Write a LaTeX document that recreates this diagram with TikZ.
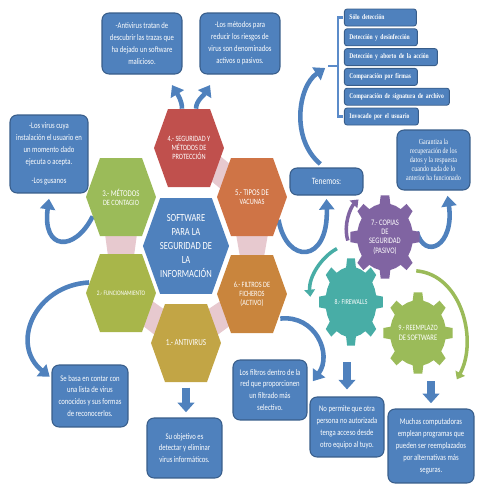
\documentclass[tikz,border=0pt]{standalone}
\usepackage{fontspec}
\usetikzlibrary{arrows.meta,backgrounds}
\newfontfamily\boxfont[FakeStretch=0.78]{Carlito}
\newfontfamily\listfont[FakeStretch=0.78]{Liberation Serif}

\definecolor{boxblue}{HTML}{4F81BD}
\definecolor{boxedge}{HTML}{385D8A}
\definecolor{hexred}{HTML}{C0504D}
\definecolor{hexgreen}{HTML}{9BBB59}
\definecolor{hexorange}{HTML}{CF7446}
\definecolor{hexamber}{HTML}{C9853D}
\definecolor{hexlime}{HTML}{A8B64A}
\definecolor{hexgold}{HTML}{C2A545}
\definecolor{gearpurple}{HTML}{8064A2}
\definecolor{gearteal}{HTML}{48ADA6}
\definecolor{gearlime}{HTML}{9BBB59}
\definecolor{joinpink}{HTML}{E7C9CF}
\definecolor{braceblue}{HTML}{5B8BC9}

\tikzset{
  infobox/.style={draw=boxedge, fill=boxblue, line width=0.6pt, rounded corners=4pt,
    text=white, align=center, inner sep=1pt, font=\boxfont\fontsize{4.9}{6.8}\selectfont},
  listbox/.style={draw=boxedge, fill=boxblue, line width=0.5pt, rounded corners=1.5pt,
    text=white, anchor=west, align=left, minimum height=0.34cm, inner xsep=0.1cm,
    inner ysep=0pt, font=\listfont\bfseries\fontsize{4.1}{5}\selectfont},
  hexlabel/.style={text=white, align=center, inner sep=0pt, minimum width=1.4cm,
    minimum height=1.56cm, font=\boxfont\fontsize{4.6}{5.2}\selectfont},
  gearlabel/.style={text=white, align=center, inner sep=0pt, minimum width=1.4cm,
    minimum height=1.7cm, font=\boxfont\fontsize{4.8}{5.3}\selectfont},
  curvy/.style={draw=boxblue, line width=2.6pt, -{Triangle[length=6pt,width=8.5pt]}},
  blockarrow/.style={draw=boxblue, line width=4.4pt, -{Triangle[length=5.5pt,width=9.5pt]}},
  spin/.style={line width=2pt, -{Triangle[length=4pt,width=6pt]}},
  brace/.style={draw=braceblue, line width=1.2pt},
}

% hexagon cell: name, centre, colour, label
\newcommand{\hexcell}[4]{%
  \fill[#3,shift={(#2)}] (-35,0) -- (-21,-39) -- (21,-39) -- (35,0) -- (21,39) -- (-21,39) -- cycle;
  \node[hexlabel] (#1) at (#2) {#4};}

% gear: name, centre, x radius, y radius, colour, label
\newcommand{\gearcell}[6]{%
  \pgfmathsetmacro\grx{0.8*#3}\pgfmathsetmacro\gry{0.8*#4}
  \fill[#5,shift={(#2)}] (-22.5:{\grx} and {\gry}) \foreach \a in {0,45,...,315}{
      -- ({\a-11}:{\grx} and {\gry}) -- ({\a-7}:#3 and #4) -- ({\a+7}:#3 and #4)
      -- ({\a+11}:{\grx} and {\gry}) -- ({\a+22.5}:{\grx} and {\gry})} -- cycle;
  \node[gearlabel] (#1) at (#2) {#6};}

\begin{document}
\begin{tikzpicture}[x=0.02cm,y=-0.02cm]
  \useasboundingbox (0,0) rectangle (495,495);

  % honeycomb
  \hexcell{h4}{189,148}{hexred}{4.- SEGURIDAD Y\\MÉTODOS DE\\PROTECCIÓN}
  \hexcell{h3}{121,197}{hexgreen}{\fontsize{5}{5.7}\selectfont 3.- MÉTODOS\\DE CONTAGIO}
  \hexcell{h5}{252,197}{hexorange}{\fontsize{5}{5.7}\selectfont 5.- TIPOS DE\\VACUNAS}
  \hexcell{h2}{121,293}{hexlime}{\fontsize{3.9}{4.5}\selectfont 2.- FUNCIONAMIENTO}
  \hexcell{h6}{252,294}{hexamber}{6.- FILTROS DE\\FICHEROS\\(ACTIVO)}
  \hexcell{h1}{186,343}{hexgold}{\fontsize{5.2}{6}\selectfont 1.- ANTIVIRUS}
  \fill[boxblue,shift={(186,246)},scale=1.23] (-35,0) -- (-21,-39) -- (21,-39) -- (35,0) -- (21,39) -- (-21,39) -- cycle;
  \node[hexlabel,minimum width=1.72cm,minimum height=1.92cm,font=\boxfont\fontsize{6.2}{8}\selectfont]
    (h0) at (186,246) {SOFTWARE\\PARA LA\\SEGURIDAD DE\\LA\\INFORMACIÓN};

  % gears
  \gearcell{g8}{351,302}{32}{44}{gearteal}{\fontsize{4.2}{5}\selectfont 8.- FIREWALLS}
  \gearcell{g7}{385,237}{35}{42}{gearpurple}{7.- COPIAS\\DE\\SEGURIDAD\\(PASIVO)}
  \gearcell{g9}{418,333}{35}{41}{gearlime}{\fontsize{4.6}{5.7}\selectfont 9.- REEMPLAZO\\DE SOFTWARE}

  % text boxes
  \node[infobox,minimum width=1.6cm,minimum height=1.22cm] (b1) at (142,43.5)
    {-Antivirus tratan de\\descubrir las trazas que\\ha dejado un software\\malicioso.};
  \node[infobox,minimum width=1.6cm,minimum height=1.22cm] (b2) at (240,43.5)
    {-Los métodos para\\reducir los riesgos de\\virus son denominados\\activos o pasivos.};
  \node[infobox,minimum width=1.56cm,minimum height=1.56cm] (b3) at (49,154)
    {-Los virus cuya\\instalación el usuario en\\un momento dado\\ejecuta o acepta.\\[4pt]-Los gusanos};
  \node[infobox,minimum width=1.52cm,minimum height=1.24cm] (b4) at (90,396)
    {Se basa en contar con\\una lista de virus\\conocidos y sus formas\\de reconocerlos.};
  \node[infobox,minimum width=1.5cm,minimum height=1.2cm] (b5) at (184.5,448)
    {Su objetivo es\\detectar y eliminar\\virus informáticos.};
  \node[infobox,minimum width=1.48cm,minimum height=1.2cm] (b6) at (270,390)
    {Los filtros dentro de la\\red que proporcionen\\un filtrado más\\selectivo.};
  \node[infobox,minimum width=1.48cm,minimum height=1.2cm] (b7) at (347,427)
    {No permite que otra\\persona no autorizada\\tenga acceso desde\\otro equipo al tuyo.};
  \node[infobox,minimum width=1.72cm,minimum height=1.48cm] (b8) at (431,446)
    {Muchas computadoras\\emplean programas que\\pueden ser reemplazados\\por alternativas más\\seguras.};
  \node[infobox,minimum width=1.46cm,minimum height=0.54cm,font=\boxfont\fontsize{5.5}{6}\selectfont]
    (ten) at (326.5,181.5) {Tenemos:};
  \node[infobox,minimum width=1.46cm,minimum height=1.2cm,font=\listfont\fontsize{4.4}{5.1}\selectfont]
    (gar) at (433.5,160) {Garantiza la\\recuperación de los\\datos y la respuesta\\cuando nada de lo\\anterior ha funcionado};

  % list of detection types
  \node[listbox,text width=1.24cm] (l1) at (344,17.5) {Sólo detección};
  \node[listbox,text width=1.26cm] (l2) at (344,37.3) {Detección y desinfección};
  \node[listbox,text width=1.66cm] (l3) at (344,57.1) {Detección y aborto de la acción};
  \node[listbox,text width=1.26cm] (l4) at (344,76.9) {Comparación por firmas};
  \node[listbox,text width=1.9cm]  (l5) at (344,96.7) {Comparación de signatura de archivo};
  \node[listbox,text width=1.28cm] (l6) at (344,116.5) {Invocado por el usuario};
  \draw[brace] ([xshift=-0.5pt]l1.west) -- ++(-5,0) coordinate (bt) -- (bt |- l6.west) -- ([xshift=-0.5pt]l6.west);
  \draw[brace] (bt |- l3.south) -- ++(-10,0) coordinate (brtip);

  % gear turns
  \draw[spin,gearpurple] ([xshift=-1pt,yshift=-2pt]g7.west) .. controls +(-5,-15) and +(-8,8) .. ([xshift=5pt,yshift=-3pt]g7.north west);
  \draw[spin,gearteal] ([xshift=-8pt,yshift=6pt]g8.north) .. controls +(-15,8) and +(-2,-20) .. ([xshift=-3pt,yshift=3pt]g8.west);
  \draw[spin,gearlime] ([xshift=-1pt,yshift=11pt]g9.north) .. controls +(46,4) and +(21,-38) .. ([xshift=2pt,yshift=-2pt]g9.south east);

  \begin{pgfonlayer}{background}
    % joins between cells
    \fill[joinpink] (219,155) -- (210,180) -- (222,190) -- (231,165) -- cycle;
    \fill[joinpink] (105,234) -- (137,234) -- (134,256) -- (108,256) -- cycle;
    \fill[joinpink] (236,234) -- (268,234) -- (264,257) -- (240,257) -- cycle;
    \fill[joinpink] (151,300) -- (142,325) -- (156,336) -- (165,310) -- cycle;
    \fill[joinpink] (222,300) -- (231,325) -- (216,336) -- (207,310) -- cycle;

    % connectors
    \draw[curvy] ([xshift=-4pt]h4.north) .. controls +(0,-8) and +(6,10) .. ([xshift=-6pt,yshift=-6pt]b1.south east);
    \draw[curvy] ([xshift=4pt]h4.north) .. controls +(0,-8) and +(-6,10) .. ([xshift=6pt,yshift=-6pt]b2.south west);
    \draw[curvy] ([xshift=4pt,yshift=-11pt]h3.west) .. controls +(-18,36) and +(-7,52) .. ([yshift=-3pt]b3.south);
    \draw[curvy] ([xshift=2pt,yshift=6pt]h2.west) .. controls +(-55,3) and +(-40,-32) .. ([xshift=-1pt,yshift=-7pt]b4.north west);
    \draw[blockarrow,shorten <=3pt,shorten >=3pt] (h1.south) -- (h1.south |- b5.north);
    \draw[curvy] ([xshift=-4pt,yshift=-14pt]h6.east) .. controls +(35,-4) and +(20,-27) .. ([xshift=3pt,yshift=5pt]b6.east);
    \draw[blockarrow,shorten <=10pt,shorten >=4pt] (b7.north |- g8.south) -- (b7.north);
    \draw[blockarrow,shorten <=3pt,shorten >=3pt] (b8.north |- g9.south) -- (b8.north);
    \draw[curvy] ([xshift=-5pt,yshift=-13pt]h5.east) .. controls +(8,45) and +(2,65) .. ([yshift=-2pt]ten.south);
    \draw[curvy,shorten >=2pt] ([xshift=-3.5pt,yshift=2pt]ten.north) .. controls +(-30,-25) and +(-30,20) .. (brtip);
    \draw[curvy] ([xshift=-2pt,yshift=3pt]g7.east) .. controls +(8,29) and +(7,50) .. ([xshift=8pt,yshift=-3pt]gar.south);
  \end{pgfonlayer}
\end{tikzpicture}
\end{document}
